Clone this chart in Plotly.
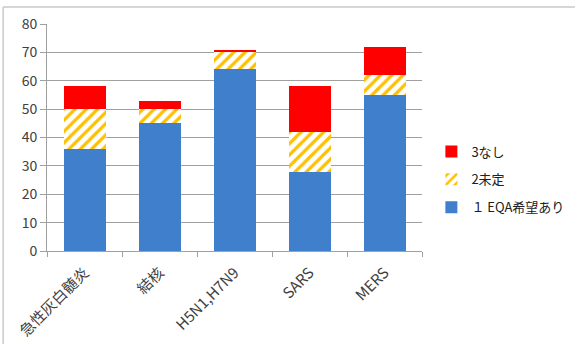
import plotly.graph_objects as go

categories = ["急性灰白髄炎", "結核", "H5N1,H7N9", "SARS", "MERS"]
s1_name = "１ EQA希望あり"
s2_name = "2未定"
s3_name = "3なし"
s1_values = [36, 45, 64, 28, 55]
s2_values = [14, 5, 6, 14, 7]
s3_values = [8, 3, 1, 16, 10]

fig = go.Figure()
fig.add_trace(go.Bar(x=categories, y=s1_values, name=s1_name, legendgroup="g1", legendrank=3,
                     marker=dict(color="#3F7FCB", line=dict(width=0))))
fig.add_trace(go.Bar(x=categories, y=s2_values, name=s2_name, legendgroup="g2", legendrank=2,
                     marker=dict(color="white", line=dict(width=0),
                                 pattern=dict(shape="/", fgcolor="#FFC000", bgcolor="white",
                                              size=8, solidity=0.4, fillmode="replace"))))
fig.add_trace(go.Bar(x=categories, y=s3_values, name=s3_name, legendgroup="g3", legendrank=1,
                     marker=dict(color="#FF0000", line=dict(width=0))))

font_family = "Noto Sans CJK JP"
fig.update_layout(
    width=575, height=344,
    margin=dict(l=47, r=153, t=24, b=93, autoexpand=False),
    barmode="stack", bargap=0.44,
    paper_bgcolor="white", plot_bgcolor="white",
    font=dict(family=font_family, size=12, color="#404040"),
    showlegend=True,
    legend=dict(x=1.025, y=0.315, xanchor="left", yanchor="middle",
                traceorder="grouped", font=dict(size=13, color="#202020"),
                itemwidth=30, tracegroupgap=8, bgcolor="rgba(0,0,0,0)"),
    xaxis=dict(showline=True, linecolor="#A0A0A0", linewidth=1,
               ticks="outside", tickson="boundaries", ticklen=5, tickcolor="#A0A0A0",
               tickangle=-45, tickfont=dict(size=15, color="#404040"),
               ticklabelstandoff=6,
               showgrid=False, automargin=False),
    yaxis=dict(range=[0, 80], dtick=10, showline=True, linecolor="#A0A0A0", linewidth=1,
               ticks="outside", ticklen=6, tickcolor="#A0A0A0",
               showgrid=True, gridcolor="#A0A0A0", gridwidth=1,
               zeroline=False, tickfont=dict(size=14, color="#404040"), automargin=False),
    shapes=[
        dict(type="line", xref="paper", yref="paper", x0=-0.117, x1=1.42, y0=1.075, y1=1.075,
             line=dict(color="#C8C8C8", width=1.5)),
        dict(type="line", xref="paper", yref="paper", x0=-0.117, x1=-0.117, y0=1.075, y1=-0.42,
             line=dict(color="#C8C8C8", width=1.5)),
    ],
)

fig.write_html("out.html")
